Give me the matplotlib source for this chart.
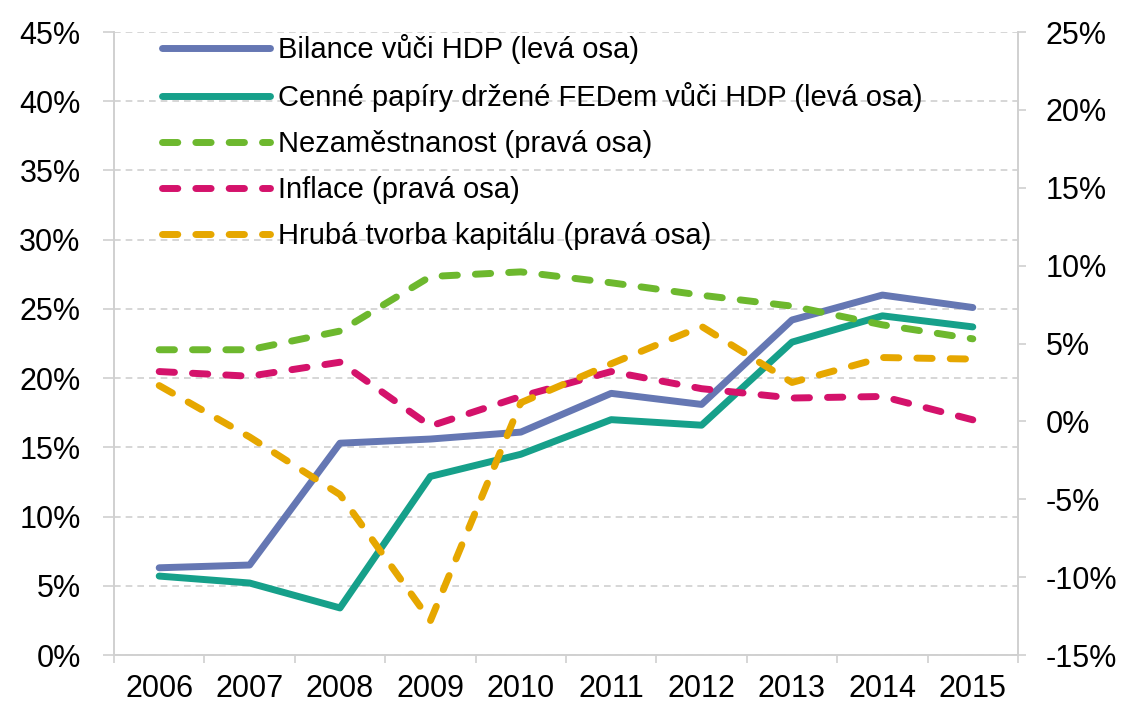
import numpy as np
import matplotlib.pyplot as plt
from matplotlib.ticker import FuncFormatter

# --- data ---
years = ["2006", "2007", "2008", "2009", "2010", "2011", "2012", "2013", "2014", "2015"]

# left axis (% of GDP)
bilance = [6.3, 6.5, 15.3, 15.6, 16.1, 18.9, 18.1, 24.2, 26.0, 25.1]
cenne_papiry = [5.7, 5.2, 3.4, 12.9, 14.5, 17.0, 16.6, 22.6, 24.5, 23.7]

# right axis (%)
nezamestnanost = [4.6, 4.6, 5.8, 9.3, 9.6, 8.9, 8.1, 7.4, 6.2, 5.3]
inflace = [3.2, 2.9, 3.8, -0.3, 1.6, 3.2, 2.1, 1.5, 1.6, 0.1]
hruba_tvorba = [2.3, -1.0, -4.7, -12.8, 1.2, 3.7, 6.1, 2.5, 4.1, 4.0]

labels = [
    "Bilance vůči HDP (levá osa)",
    "Cenné papíry držené FEDem vůči HDP (levá osa)",
    "Nezaměstnanost (pravá osa)",
    "Inflace (pravá osa)",
    "Hrubá tvorba kapitálu (pravá osa)",
]
colors = ["#6577B3", "#16A08A", "#6DB82E", "#D4126B", "#E6A700"]

plt.rcParams['font.family'] = ['Liberation Sans', 'DejaVu Sans']

x = np.arange(len(years))
lw = 5
dash = (2.2, 2.6)
grey = "#D0D0D0"

fig = plt.figure(figsize=(11.33, 7.04), dpi=100)
ax = fig.add_axes([0.1006, 0.0696, 0.7979, 0.8849])
ax2 = ax.twinx()

l1, = ax.plot(x, bilance, color=colors[0], lw=lw, solid_capstyle='round', solid_joinstyle='round')
l2, = ax.plot(x, cenne_papiry, color=colors[1], lw=lw, solid_capstyle='round', solid_joinstyle='round')
l3, = ax2.plot(x, nezamestnanost, color=colors[2], lw=lw, dashes=dash, dash_capstyle='round')
l4, = ax2.plot(x, inflace, color=colors[3], lw=lw, dashes=dash, dash_capstyle='round')
l5, = ax2.plot(x, hruba_tvorba, color=colors[4], lw=lw, dashes=dash, dash_capstyle='round')

# left axis
ax.set_ylim(0, 45)
ax.set_yticks(np.arange(0, 46, 5))
ax.yaxis.set_major_formatter(FuncFormatter(lambda v, p: f"{v:.0f}%"))
ax.grid(axis='y', color=grey, ls=(0, (4, 3)), lw=1.2)
ax.set_axisbelow(True)

# right axis
ax2.set_ylim(-15, 25)
ax2.set_yticks(np.arange(-15, 26, 5))
ax2.yaxis.set_major_formatter(FuncFormatter(lambda v, p: f"{v:.0f}%"))

# x axis: ticks between categories, labels centred
ax.set_xlim(-0.5, len(years) - 0.5)
ax.set_xticks(np.arange(-0.5, len(years), 1.0))
ax.set_xticklabels([])
ax.set_xticks(x, minor=True)
ax.set_xticklabels(years, minor=True)
ax.tick_params(axis='x', which='major', length=6, color=grey, width=1.2)
ax.tick_params(axis='x', which='minor', length=0, pad=14, labelsize=22)
ax.tick_params(axis='y', length=8, color=grey, width=1.2, labelsize=22, pad=16)
ax2.tick_params(axis='y', length=6, color=grey, width=1.2, labelsize=22, pad=14)

for a in (ax, ax2):
    a.spines['top'].set_visible(False)
    for s in ('left', 'right', 'bottom'):
        a.spines[s].set_color(grey)
        a.spines[s].set_linewidth(1.2)

leg = ax2.legend([l1, l2, l3, l4, l5], labels, loc='upper left',
                 bbox_to_anchor=(0.04, 1.016), frameon=False, fontsize=21,
                 handlelength=3.7, handletextpad=0.28, labelspacing=0.62,
                 borderaxespad=0)

fig.savefig("out.png", dpi=100)
